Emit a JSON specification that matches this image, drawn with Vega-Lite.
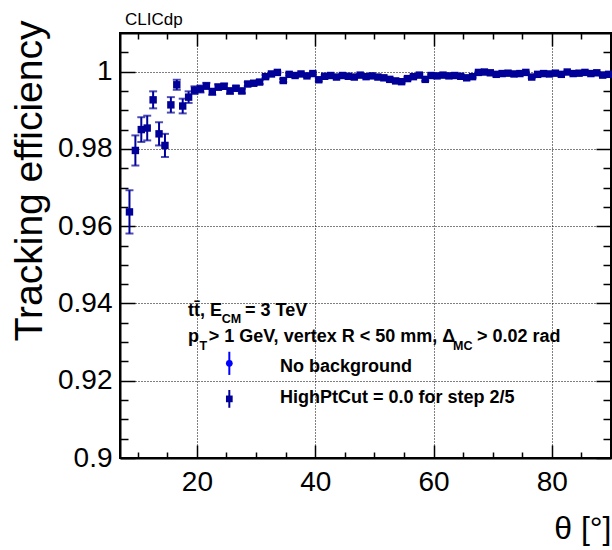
{
  "$schema": "https://vega.github.io/schema/vega-lite/v6.json",
  "width": 491,
  "height": 425,
  "autosize": {"type": "none"},
  "padding": {"left": 120, "top": 33, "right": 1, "bottom": 92},
  "background": "white",
  "config": {
    "font": "Liberation Sans",
    "view": {"stroke": "black", "strokeWidth": 2},
    "axis": {"domainColor": "black", "domainWidth": 2, "tickColor": "black", "tickWidth": 1.5, "labelColor": "black", "titleColor": "black", "labelFont": "Liberation Sans", "titleFont": "Liberation Sans"}
  },
  "title": {"text": "CLICdp", "anchor": "start", "frame": "group", "fontSize": 17, "fontWeight": "normal", "font": "Liberation Sans", "color": "black", "dx": 5, "offset": -9},
  "datasets": {
    "eff": [
      {"theta": 8.6, "eff": 0.9637, "err": 0.0056},
      {"theta": 9.6, "eff": 0.9796, "err": 0.0039},
      {"theta": 10.6, "eff": 0.985, "err": 0.0032},
      {"theta": 11.6, "eff": 0.9854, "err": 0.0032},
      {"theta": 12.6, "eff": 0.9927, "err": 0.0022},
      {"theta": 13.6, "eff": 0.9839, "err": 0.003},
      {"theta": 14.6, "eff": 0.9809, "err": 0.003},
      {"theta": 15.6, "eff": 0.9914, "err": 0.002},
      {"theta": 16.6, "eff": 0.9966, "err": 0.0013},
      {"theta": 17.6, "eff": 0.9911, "err": 0.0019},
      {"theta": 18.6, "eff": 0.9934, "err": 0.0015},
      {"theta": 19.6, "eff": 0.9952, "err": 0.001},
      {"theta": 20.6, "eff": 0.9955, "err": 0.0009},
      {"theta": 21.6, "eff": 0.9963, "err": 0.0008},
      {"theta": 22.6, "eff": 0.9948, "err": 0.0008},
      {"theta": 23.6, "eff": 0.996, "err": 0.0007},
      {"theta": 24.6, "eff": 0.9962, "err": 0.0007},
      {"theta": 25.6, "eff": 0.995, "err": 0.0007},
      {"theta": 26.6, "eff": 0.9957, "err": 0.0006},
      {"theta": 27.6, "eff": 0.995, "err": 0.0006},
      {"theta": 28.6, "eff": 0.9968, "err": 0.0005},
      {"theta": 29.6, "eff": 0.997, "err": 0.0005},
      {"theta": 30.6, "eff": 0.9973, "err": 0.0005},
      {"theta": 31.6, "eff": 0.9987, "err": 0.0004},
      {"theta": 32.6, "eff": 0.9994, "err": 0.0003},
      {"theta": 33.6, "eff": 0.9998, "err": 0.0002},
      {"theta": 34.6, "eff": 0.9977, "err": 0.0004},
      {"theta": 35.6, "eff": 0.9993, "err": 0.0003},
      {"theta": 36.6, "eff": 0.999, "err": 0.0003},
      {"theta": 37.6, "eff": 0.9994, "err": 0.0003},
      {"theta": 38.6, "eff": 0.9989, "err": 0.0003},
      {"theta": 39.6, "eff": 0.9995, "err": 0.0003},
      {"theta": 40.6, "eff": 0.9979, "err": 0.0004},
      {"theta": 41.6, "eff": 0.9988, "err": 0.0003},
      {"theta": 42.6, "eff": 0.999, "err": 0.0003},
      {"theta": 43.6, "eff": 0.9986, "err": 0.0003},
      {"theta": 44.6, "eff": 0.999, "err": 0.0003},
      {"theta": 45.6, "eff": 0.9988, "err": 0.0003},
      {"theta": 46.6, "eff": 0.9986, "err": 0.0003},
      {"theta": 47.6, "eff": 0.9991, "err": 0.0003},
      {"theta": 48.6, "eff": 0.9987, "err": 0.0003},
      {"theta": 49.6, "eff": 0.9989, "err": 0.0003},
      {"theta": 50.6, "eff": 0.9986, "err": 0.0003},
      {"theta": 51.6, "eff": 0.9984, "err": 0.0003},
      {"theta": 52.6, "eff": 0.998, "err": 0.0004},
      {"theta": 53.6, "eff": 0.9976, "err": 0.0004},
      {"theta": 54.6, "eff": 0.9974, "err": 0.0004},
      {"theta": 55.6, "eff": 0.9982, "err": 0.0004},
      {"theta": 56.6, "eff": 0.9987, "err": 0.0003},
      {"theta": 57.6, "eff": 0.9991, "err": 0.0003},
      {"theta": 58.6, "eff": 0.998, "err": 0.0004},
      {"theta": 59.6, "eff": 0.999, "err": 0.0003},
      {"theta": 60.6, "eff": 0.9989, "err": 0.0003},
      {"theta": 61.6, "eff": 0.9991, "err": 0.0003},
      {"theta": 62.6, "eff": 0.9989, "err": 0.0003},
      {"theta": 63.6, "eff": 0.999, "err": 0.0003},
      {"theta": 64.6, "eff": 0.9988, "err": 0.0003},
      {"theta": 65.6, "eff": 0.9984, "err": 0.0003},
      {"theta": 66.6, "eff": 0.9987, "err": 0.0003},
      {"theta": 67.6, "eff": 0.9998, "err": 0.0002},
      {"theta": 68.6, "eff": 0.9999, "err": 0.0001},
      {"theta": 69.6, "eff": 0.9997, "err": 0.0002},
      {"theta": 70.6, "eff": 0.9993, "err": 0.0003},
      {"theta": 71.6, "eff": 0.9995, "err": 0.0002},
      {"theta": 72.6, "eff": 0.9996, "err": 0.0002},
      {"theta": 73.6, "eff": 0.9994, "err": 0.0002},
      {"theta": 74.6, "eff": 0.9995, "err": 0.0002},
      {"theta": 75.6, "eff": 0.9998, "err": 0.0002},
      {"theta": 76.6, "eff": 0.9986, "err": 0.0003},
      {"theta": 77.6, "eff": 0.9993, "err": 0.0002},
      {"theta": 78.6, "eff": 0.9995, "err": 0.0002},
      {"theta": 79.6, "eff": 0.9994, "err": 0.0002},
      {"theta": 80.6, "eff": 0.9996, "err": 0.0002},
      {"theta": 81.6, "eff": 0.9993, "err": 0.0002},
      {"theta": 82.6, "eff": 0.9999, "err": 0.0001},
      {"theta": 83.6, "eff": 0.9995, "err": 0.0002},
      {"theta": 84.6, "eff": 0.9996, "err": 0.0002},
      {"theta": 85.6, "eff": 0.9998, "err": 0.0002},
      {"theta": 86.6, "eff": 0.9995, "err": 0.0002},
      {"theta": 87.6, "eff": 0.9997, "err": 0.0002},
      {"theta": 88.6, "eff": 0.9991, "err": 0.0003},
      {"theta": 89.6, "eff": 0.9993, "err": 0.0002}
    ],
    "leg": [
      {"theta": 25.48, "eff": 0.9245, "err": 0.003, "series": "No background"},
      {"theta": 25.48, "eff": 0.9153, "err": 0.0023, "series": "HighPtCut = 0.0 for step 2/5"}
    ],
    "txt": [
      {"theta": 18.49, "eff": 0.93688, "text": "tt̄, E"},
      {"theta": 28.13, "eff": 0.93688, "text": "= 3 TeV"},
      {"theta": 18.49, "eff": 0.93015, "text": "p"},
      {"theta": 22.0, "eff": 0.93015, "text": "> 1 GeV, vertex R < 50 mm, Δ"},
      {"theta": 67.35, "eff": 0.93015, "text": "> 0.02 rad"},
      {"theta": 34.05, "eff": 0.92234, "text": "No background"},
      {"theta": 34.05, "eff": 0.91416, "text": "HighPtCut = 0.0 for step 2/5"}
    ],
    "sub": [
      {"theta": 24.19, "eff": 0.93494, "text": "CM"},
      {"theta": 20.45, "eff": 0.92795, "text": "T"},
      {"theta": 63.29, "eff": 0.92795, "text": "MC"}
    ]
  },
  "resolve": {"axis": {"x": "independent", "y": "independent"}},
  "layer": [
    {
      "data": {"name": "eff"},
      "mark": {"type": "errorbar", "ticks": {"size": 8, "thickness": 2, "color": "#000099"}, "thickness": 2, "color": "#000099"},
      "encoding": {
        "x": {"field": "theta", "type": "quantitative", "scale": {"domain": [7, 90], "nice": false, "zero": false},
          "axis": {"orient": "bottom", "values": [10, 15, 20, 25, 30, 35, 40, 45, 50, 55, 60, 65, 70, 75, 80, 85, 90],
            "labelExpr": "datum.value % 20 === 0 ? datum.label : ''",
            "tickSize": {"condition": {"test": "datum.value % 20 === 0", "value": -13}, "value": -6},
            "grid": true, "gridDash": [1, 2], "gridColor": "black", "gridWidth": 1,
            "gridOpacity": {"condition": {"test": "datum.value % 20 === 0", "value": 1}, "value": 0},
            "labelFontSize": 28, "labelPadding": 23, "labelFlush": false,
            "title": "θ [°]", "titleFontSize": 32, "titleFontWeight": "normal", "titleAnchor": "end", "titlePadding": 17}},
        "y": {"field": "eff", "type": "quantitative", "scale": {"domain": [0.9, 1.01], "nice": false, "zero": false},
          "axis": {"orient": "left", "values": [0.9, 0.905, 0.91, 0.915, 0.92, 0.925, 0.93, 0.935, 0.94, 0.945, 0.95, 0.955, 0.96, 0.965, 0.97, 0.975, 0.98, 0.985, 0.99, 0.995, 1, 1.005],
            "labelExpr": "abs(datum.value*50 - round(datum.value*50)) < 0.001 ? format(datum.value, '~g') : ''",
            "tickSize": {"condition": {"test": "abs(datum.value*50 - round(datum.value*50)) < 0.001", "value": -15}, "value": -8},
            "grid": true, "gridDash": [1, 2], "gridColor": "black", "gridWidth": 1,
            "gridOpacity": {"condition": {"test": "abs(datum.value*50 - round(datum.value*50)) < 0.001", "value": 1}, "value": 0},
            "labelFontSize": 28, "labelPadding": 23, "labelFlush": false,
            "title": "Tracking efficiency", "titleFontSize": 39, "titleFontWeight": "normal", "titleAnchor": "end", "titleY": -13, "titlePadding": 8}},
        "yError": {"field": "err"}
      }
    },
    {
      "data": {"name": "eff"},
      "mark": {"type": "point", "shape": "square", "filled": true, "size": 55, "color": "#000099", "opacity": 1},
      "encoding": {
        "x": {"field": "theta", "type": "quantitative", "scale": {"domain": [7, 90], "nice": false, "zero": false},
          "axis": {"orient": "top", "values": [10, 15, 20, 25, 30, 35, 40, 45, 50, 55, 60, 65, 70, 75, 80, 85, 90], "labels": false, "grid": false, "title": null,
            "tickSize": {"condition": {"test": "datum.value % 20 === 0", "value": -13}, "value": -6}}},
        "y": {"field": "eff", "type": "quantitative", "scale": {"domain": [0.9, 1.01], "nice": false, "zero": false},
          "axis": {"orient": "right", "values": [0.9, 0.905, 0.91, 0.915, 0.92, 0.925, 0.93, 0.935, 0.94, 0.945, 0.95, 0.955, 0.96, 0.965, 0.97, 0.975, 0.98, 0.985, 0.99, 0.995, 1, 1.005], "labels": false, "grid": false, "title": null,
            "tickSize": {"condition": {"test": "abs(datum.value*50 - round(datum.value*50)) < 0.001", "value": -15}, "value": -8}}}
      }
    },
    {
      "data": {"name": "leg"},
      "mark": {"type": "errorbar", "thickness": 2},
      "encoding": {
        "x": {"field": "theta", "type": "quantitative", "axis": null},
        "y": {"field": "eff", "type": "quantitative", "axis": null},
        "yError": {"field": "err"},
        "color": {"field": "series", "type": "nominal", "scale": {"domain": ["No background", "HighPtCut = 0.0 for step 2/5"], "range": ["#0000ff", "#000099"]}, "legend": null}
      }
    },
    {
      "data": {"name": "leg"},
      "mark": {"type": "point", "filled": true, "size": 45, "opacity": 1},
      "encoding": {
        "x": {"field": "theta", "type": "quantitative", "axis": null},
        "y": {"field": "eff", "type": "quantitative", "axis": null},
        "shape": {"field": "series", "type": "nominal", "scale": {"domain": ["No background", "HighPtCut = 0.0 for step 2/5"], "range": ["circle", "square"]}, "legend": null},
        "color": {"field": "series", "type": "nominal", "scale": {"domain": ["No background", "HighPtCut = 0.0 for step 2/5"], "range": ["#0000ff", "#000099"]}, "legend": null}
      }
    },
    {
      "data": {"name": "txt"},
      "mark": {"type": "text", "align": "left", "baseline": "alphabetic", "fontSize": 18, "fontWeight": "bold", "font": "Liberation Sans", "color": "black"},
      "encoding": {
        "x": {"field": "theta", "type": "quantitative", "axis": null},
        "y": {"field": "eff", "type": "quantitative", "axis": null},
        "text": {"field": "text"}
      }
    },
    {
      "data": {"name": "sub"},
      "mark": {"type": "text", "align": "left", "baseline": "alphabetic", "fontSize": 12.5, "fontWeight": "bold", "font": "Liberation Sans", "color": "black"},
      "encoding": {
        "x": {"field": "theta", "type": "quantitative", "axis": null},
        "y": {"field": "eff", "type": "quantitative", "axis": null},
        "text": {"field": "text"}
      }
    }
  ]
}
